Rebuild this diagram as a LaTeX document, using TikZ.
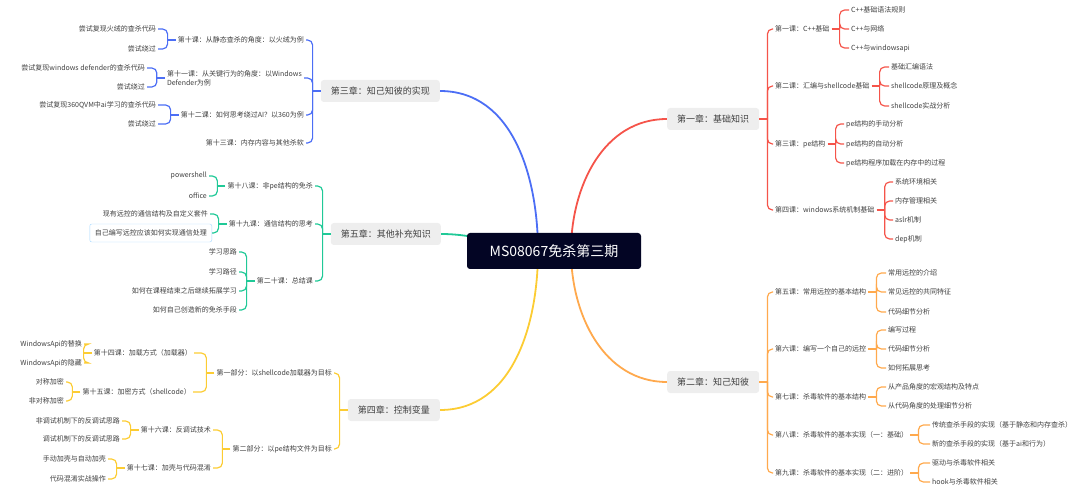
\documentclass[tikz,border=0pt]{standalone}
\usepackage{fontspec}
\setmainfont{Noto Sans CJK SC}
\usepackage{tikz}
\usetikzlibrary{backgrounds}
\definecolor{mmred}{HTML}{F5544A}
\definecolor{mmorange}{HTML}{FFA94D}
\definecolor{mmblue}{HTML}{4C6EF5}
\definecolor{mmgreen}{HTML}{20C997}
\definecolor{mmyellow}{HTML}{FCCC33}
\definecolor{mmroot}{HTML}{030524}
\definecolor{mmchap}{HTML}{EEEEEE}
\definecolor{mmtext}{HTML}{404040}
\definecolor{mmcyan}{HTML}{A5D8FF}

\begin{document}
\begin{tikzpicture}[x=1pt,y=-1pt]
  \tikzstyle{root}=[fill=mmroot,text=white,rounded corners=3pt,minimum width=174pt,minimum height=36pt,font=\fontsize{14}{16}\selectfont]
  \tikzstyle{chap}=[fill=mmchap,text=mmtext,rounded corners=3pt,minimum height=22pt,inner xsep=10pt,font=\fontsize{9}{11}\selectfont]
  \tikzstyle{item}=[text=mmtext,inner sep=2pt,font=\fontsize{7}{9}\selectfont]
  \tikzstyle{boxed}=[item,draw=mmcyan,rounded corners=2pt,inner xsep=5pt,minimum height=18pt]
  \tikzstyle{link}=[line width=1.2pt,rounded corners=5pt]
  \tikzstyle{trunk}=[line width=1.8pt]
  \useasboundingbox (0,0) rectangle (1080,497);

  \node[root] (root) at (554,251) {MS08067免杀第三期};
  \node[chap,anchor=west] (ch1) at (667,119) {第一章：基础知识};
  \node[chap,anchor=west] (ch2) at (667,382) {第二章：知己知彼};
  \node[chap,anchor=east] (ch3) at (440,91) {第三章：知己知彼的实现};
  \node[chap,anchor=east] (ch5) at (441,234) {第五章：其他补充知识};
  \node[chap,anchor=east] (ch4) at (440,410) {第四章：控制变量};

  % chapter one
  \node[item,anchor=west] (l1) at (773,29) {第一课：C++基础};
  \node[item,anchor=west] (l1a) at (849,10) {C++基础语法规则};
  \node[item,anchor=west] (l1b) at (849,29) {C++与网络};
  \node[item,anchor=west] (l1c) at (849,48) {C++与windowsapi};
  \node[item,anchor=west] (l2) at (773,86) {第二课：汇编与shellcode基础};
  \node[item,anchor=west] (l2a) at (889,67) {基础汇编语法};
  \node[item,anchor=west] (l2b) at (889,86) {shellcode原理及概念};
  \node[item,anchor=west] (l2c) at (889,106) {shellcode实战分析};
  \node[item,anchor=west] (l3) at (773,144) {第三课：pe结构};
  \node[item,anchor=west] (l3a) at (844,124) {pe结构的手动分析};
  \node[item,anchor=west] (l3b) at (844,144) {pe结构的自动分析};
  \node[item,anchor=west] (l3c) at (844,163) {pe结构程序加载在内存中的过程};
  \node[item,anchor=west] (l4) at (773,210) {第四课：windows系统机制基础};
  \node[item,anchor=west] (l4a) at (893,182) {系统环境相关};
  \node[item,anchor=west] (l4b) at (893,201) {内存管理相关};
  \node[item,anchor=west] (l4c) at (893,220) {aslr机制};
  \node[item,anchor=west] (l4d) at (893,239) {dep机制};

  % chapter two
  \node[item,anchor=west] (l5) at (773,292) {第五课：常用远控的基本结构};
  \node[item,anchor=west] (l5a) at (886,273) {常用远控的介绍};
  \node[item,anchor=west] (l5b) at (886,292) {常见远控的共同特征};
  \node[item,anchor=west] (l5c) at (886,312) {代码细节分析};
  \node[item,anchor=west] (l6) at (773,349) {第六课：编写一个自己的远控};
  \node[item,anchor=west] (l6a) at (886,330) {编写过程};
  \node[item,anchor=west] (l6b) at (886,349) {代码细节分析};
  \node[item,anchor=west] (l6c) at (886,368) {如何拓展思考};
  \node[item,anchor=west] (l7) at (773,397) {第七课：杀毒软件的基本结构};
  \node[item,anchor=west] (l7a) at (886,387) {从产品角度的宏观结构及特点};
  \node[item,anchor=west] (l7b) at (886,406) {从代码角度的处理细节分析};
  \node[item,anchor=west] (l8) at (773,435) {第八课：杀毒软件的基本实现（一：基础）};
  \node[item,anchor=west] (l8a) at (930,425) {传统查杀手段的实现（基于静态和内存查杀）};
  \node[item,anchor=west] (l8b) at (930,444) {新的查杀手段的实现（基于ai和行为）};
  \node[item,anchor=west] (l9) at (773,473) {第九课：杀毒软件的基本实现（二：进阶）};
  \node[item,anchor=west] (l9a) at (930,463) {驱动与杀毒软件相关};
  \node[item,anchor=west] (l9b) at (930,482) {hook与杀毒软件相关};

  % chapter three
  \node[item,anchor=east] (l10) at (306,40) {第十课：从静态查杀的角度：以火绒为例};
  \node[item,anchor=east] (l10a) at (158,29) {尝试复现火绒的查杀代码};
  \node[item,anchor=east] (l10b) at (158,49) {尝试绕过};
  \node[item,anchor=east,align=left] (l11) at (304,78) {第十一课：从关键行为的角度：以Windows\\Defender为例};
  \node[item,anchor=east] (l11a) at (147,68) {尝试复现windows defender的查杀代码};
  \node[item,anchor=east] (l11b) at (147,87) {尝试绕过};
  \node[item,anchor=east] (l12) at (306,115) {第十二课：如何思考绕过AI？以360为例};
  \node[item,anchor=east] (l12a) at (158,105) {尝试复现360QVM中ai学习的查杀代码};
  \node[item,anchor=east] (l12b) at (158,124) {尝试绕过};
  \node[item,anchor=east] (l13) at (306,143) {第十三课：内存内容与其他杀软};

  % chapter five
  \node[item,anchor=east] (l18) at (315,186) {第十八课：非pe结构的免杀};
  \node[item,anchor=east] (l18a) at (209,176) {powershell};
  \node[item,anchor=east] (l18b) at (209,196) {office};
  \node[item,anchor=east] (l19) at (315,224) {第十九课：通信结构的思考};
  \node[item,anchor=east] (l19a) at (210,214) {现有远控的通信结构及自定义套件};
  \node[boxed,anchor=east] (l19b) at (212,233) {自己编写远控应该如何实现通信处理};
  \node[item,anchor=east] (l20) at (315,281) {第二十课：总结课};
  \node[item,anchor=east] (l20a) at (239,252) {学习思路};
  \node[item,anchor=east] (l20b) at (239,272) {学习路径};
  \node[item,anchor=east] (l20c) at (239,291) {如何在课程结束之后继续拓展学习};
  \node[item,anchor=east] (l20d) at (239,310) {如何自己创造新的免杀手段};

  % chapter four
  \node[item,anchor=east] (p1) at (334,373) {第一部分：以shellcode加载器为目标};
  \node[item,anchor=east] (p2) at (334,449) {第二部分：以pe结构文件为目标};
  \node[item,anchor=east] (l14) at (194,353) {第十四课：加载方式（加载器）};
  \node[item,anchor=east] (l14a) at (84,344) {WindowsApi的替换};
  \node[item,anchor=east] (l14b) at (84,363) {WindowsApi的隐藏};
  \node[item,anchor=east] (l15) at (193,392) {第十五课：加密方式（shellcode）};
  \node[item,anchor=east] (l15a) at (66,382) {对称加密};
  \node[item,anchor=east] (l15b) at (66,401) {非对称加密};
  \node[item,anchor=east] (l16) at (213,430) {第十六课：反调试技术};
  \node[item,anchor=east] (l16a) at (122,421) {非调试机制下的反调试思路};
  \node[item,anchor=east] (l16b) at (122,439) {调试机制下的反调试思路};
  \node[item,anchor=east] (l17) at (213,468) {第十七课：加壳与代码混淆};
  \node[item,anchor=east] (l17a) at (108,459) {手动加壳与自动加壳};
  \node[item,anchor=east] (l17b) at (108,479) {代码混淆实战操作};

  % brackets to the right
  \foreach \p/\kids/\col in {ch1/{l1,l2,l3,l4}/mmred,l1/{l1a,l1b,l1c}/mmred,l2/{l2a,l2b,l2c}/mmred,
      l3/{l3a,l3b,l3c}/mmred,l4/{l4a,l4b,l4c,l4d}/mmred,ch2/{l5,l6,l7,l8,l9}/mmorange,
      l5/{l5a,l5b,l5c}/mmorange,l6/{l6a,l6b,l6c}/mmorange,l7/{l7a,l7b}/mmorange,
      l8/{l8a,l8b}/mmorange,l9/{l9a,l9b}/mmorange}{
    \draw[link,\col] (\p.east) -- ++(8,0) coordinate (j);
    \foreach \k in \kids \draw[link,\col] (j) |- (\k.west);
  }
  % brackets to the left
  \foreach \p/\kids/\col in {ch3/{l10,l11,l12,l13}/mmblue,l10/{l10a,l10b}/mmblue,l11/{l11a,l11b}/mmblue,
      l12/{l12a,l12b}/mmblue,ch5/{l18,l19,l20}/mmgreen,l18/{l18a,l18b}/mmgreen,
      l19/{l19a,l19b}/mmgreen,l20/{l20a,l20b,l20c,l20d}/mmgreen,ch4/{p1,p2}/mmyellow,
      p1/{l14,l15}/mmyellow,p2/{l16,l17}/mmyellow,l14/{l14a,l14b}/mmyellow,
      l15/{l15a,l15b}/mmyellow,l16/{l16a,l16b}/mmyellow,l17/{l17a,l17b}/mmyellow}{
    \draw[link,\col] (\p.west) -- ++(-8,0) coordinate (j);
    \foreach \k in \kids \draw[link,\col] (j) |- (\k.east);
  }

  \begin{pgfonlayer}{background}
    \draw[trunk,mmred] ([xshift=17pt]root.center) to[out=90,in=180] (ch1.west);
    \draw[trunk,mmorange] ([xshift=17pt]root.center) to[out=-90,in=180] (ch2.west);
    \draw[trunk,mmblue] ([xshift=-16pt]root.center) to[out=90,in=0] (ch3.east);
    \draw[trunk,mmyellow] ([xshift=-16pt]root.center) to[out=-90,in=0] (ch4.east);
    \draw[trunk,mmgreen] (ch5.east) to[out=0,in=180] (root.center);
  \end{pgfonlayer}
\end{tikzpicture}
\end{document}
